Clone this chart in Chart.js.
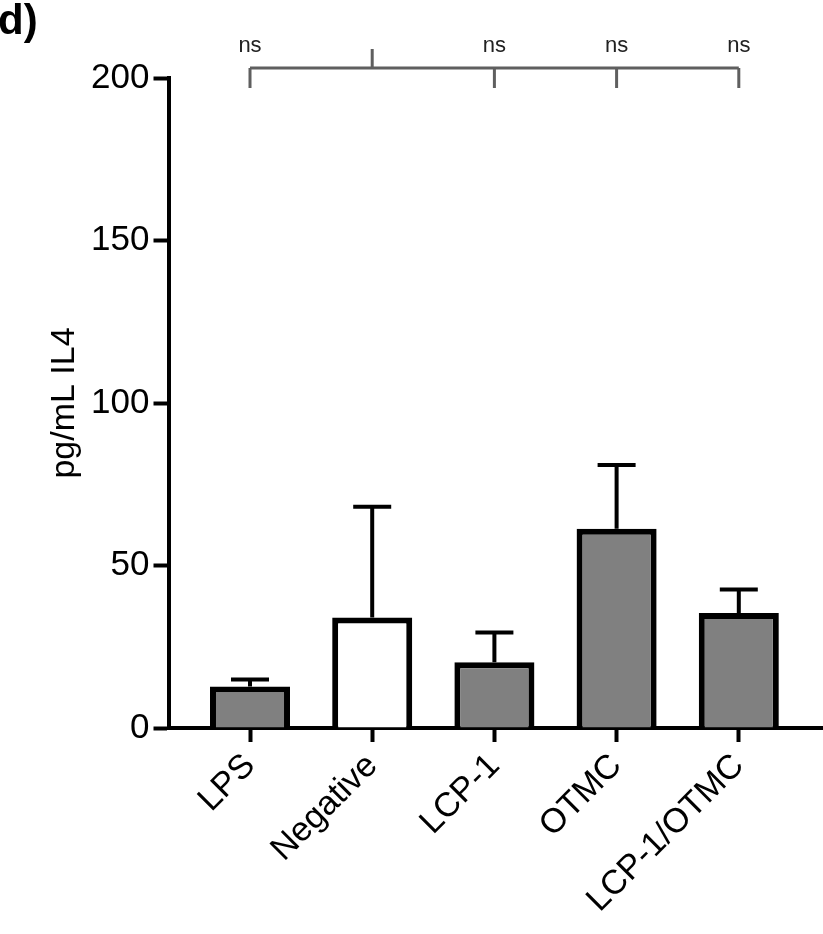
<!DOCTYPE html>
<html>
<head>
<meta charset="utf-8">
<script src="https://cdn.jsdelivr.net/npm/chart.js@4/dist/chart.umd.min.js"></script>
<style>
  html, body { margin: 0; padding: 0; background: #fff; }
  #wrap { width: 823px; height: 934px; }
</style>
</head>
<body>
<div id="wrap"><canvas id="il4Chart" width="823" height="934"></canvas></div>
<script>
var groups = ['LPS', 'Negative', 'LCP-1', 'OTMC', 'LCP-1/OTMC'];
var means = [12.8, 34.0, 20.2, 61.3, 35.4];
var sems = [2.1, 34.1, 9.2, 19.6, 7.2];
var fills = ['#808080', '#ffffff', '#808080', '#808080', '#808080'];
var significance = ['ns', '', 'ns', 'ns', 'ns'];
var controlIndex = 1;
var yTicks = [0, 50, 100, 150, 200];

var FONT = '"Liberation Sans", Arial, Helvetica, sans-serif';

// upper error bars (mean + SEM)
var errorBars = {
    id: 'errorBars',
    afterDatasetsDraw: function (chart) {
        var ctx = chart.ctx;
        var y = chart.scales.y;
        var meta = chart.getDatasetMeta(0);
        ctx.save();
        ctx.strokeStyle = '#000';
        ctx.lineWidth = 4;
        meta.data.forEach(function (bar, i) {
            var top = y.getPixelForValue(means[i] + sems[i]);
            ctx.beginPath();
            ctx.moveTo(bar.x, bar.y);
            ctx.lineTo(bar.x, top);
            ctx.moveTo(bar.x - 19, top);
            ctx.lineTo(bar.x + 19, top);
            ctx.stroke();
        });
        ctx.restore();
    }
};

// significance bracket against the control group + panel letter
var annotations = {
    id: 'annotations',
    afterDraw: function (chart) {
        var ctx = chart.ctx;
        var x = chart.scales.x;
        var top = chart.chartArea.top;
        var lineY = top - 10;
        var first = x.getPixelForValue(0);
        var last = x.getPixelForValue(groups.length - 1);
        ctx.save();
        ctx.strokeStyle = '#5f5f5f';
        ctx.lineWidth = 3;
        ctx.beginPath();
        ctx.moveTo(first, lineY);
        ctx.lineTo(last, lineY);
        groups.forEach(function (g, i) {
            var px = x.getPixelForValue(i);
            if (i === controlIndex) {
                ctx.moveTo(px, lineY);
                ctx.lineTo(px, lineY - 19);
            } else {
                ctx.moveTo(px, lineY);
                ctx.lineTo(px, lineY + 20);
            }
        });
        ctx.stroke();

        ctx.fillStyle = '#222';
        ctx.font = '22px ' + FONT;
        ctx.textAlign = 'center';
        ctx.textBaseline = 'alphabetic';
        significance.forEach(function (s, i) {
            if (s) ctx.fillText(s, x.getPixelForValue(i), lineY - 16);
        });

        ctx.fillStyle = '#000';
        ctx.font = 'bold 42px ' + FONT;
        ctx.textAlign = 'left';
        ctx.fillText('d)', -2, 34);
        ctx.restore();
    }
};

var ctx = document.getElementById('il4Chart').getContext('2d');
var chart = new Chart(ctx, {
    type: 'bar',
    data: {
        datasets: [{
            label: 'pg/mL IL4',
            data: means.map(function (m, i) { return { x: i, y: m }; }),
            backgroundColor: fills,
            borderColor: '#000',
            borderWidth: 6,
            borderSkipped: 'bottom',
            barPercentage: 0.655,
            categoryPercentage: 1
        }]
    },
    options: {
        responsive: false,
        animation: false,
        devicePixelRatio: 1,
        layout: { padding: { top: 78, left: 0, right: 0, bottom: 0 } },
        plugins: {
            legend: { display: false },
            tooltip: { enabled: false }
        },
        scales: {
            x: {
                type: 'linear',
                offset: false,
                min: -0.667,
                max: 4.689,
                afterFit: function (scale) { scale.height = 206; },
                afterBuildTicks: function (scale) {
                    scale.ticks = groups.map(function (g, i) { return { value: i }; });
                },
                grid: {
                    offset: false,
                    drawOnChartArea: false,
                    drawTicks: true,
                    tickLength: 14,
                    tickWidth: 4,
                    tickColor: '#000'
                },
                border: { display: true, color: '#000', width: 4 },
                ticks: {
                    autoSkip: false,
                    minRotation: 45,
                    maxRotation: 45,
                    padding: 4,
                    color: '#000',
                    font: { family: FONT, size: 34 },
                    callback: function (v) { return groups[v]; }
                }
            },
            y: {
                min: 0,
                max: 200,
                afterFit: function (scale) { scale.width = 168.5; },
                afterBuildTicks: function (scale) {
                    scale.ticks = yTicks.map(function (v) { return { value: v }; });
                },
                grid: {
                    drawOnChartArea: false,
                    drawTicks: true,
                    tickLength: 15,
                    tickWidth: 4,
                    tickColor: '#000'
                },
                border: { display: true, color: '#000', width: 4 },
                ticks: {
                    padding: 4,
                    color: '#000',
                    font: { family: FONT, size: 35 }
                },
                title: {
                    display: true,
                    text: 'pg/mL IL4',
                    color: '#000',
                    font: { family: FONT, size: 34 },
                    padding: { top: 44, bottom: 0 }
                }
            }
        }
    },
    plugins: [errorBars, annotations]
});
</script>
</body>
</html>
